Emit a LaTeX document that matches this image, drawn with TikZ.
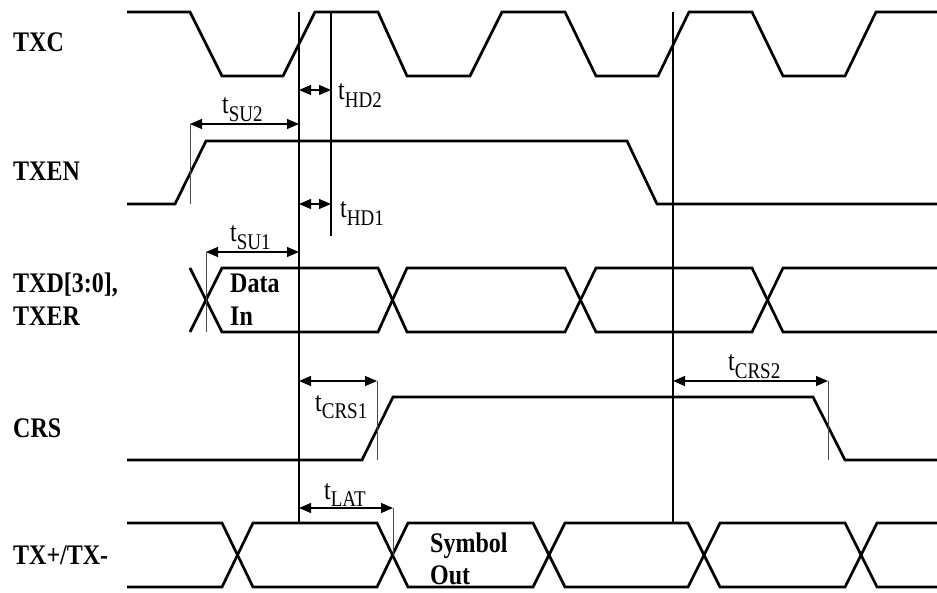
\documentclass[tikz,border=0pt]{standalone}
\usepackage{graphicx}
\usepackage{fontspec}
\setmainfont{Liberation Serif}
\usetikzlibrary{arrows.meta}
\newcommand{\vst}[1]{\scalebox{1}[1.18]{#1}}
\newcommand{\tsub}[1]{\vst{t\raisebox{-6pt}{\fontsize{19}{19}\selectfont #1}}}
\begin{document}
\begin{tikzpicture}[x=1pt,y=-1pt,
  sigln/.style={line width=2.7pt, line join=miter},
  refln/.style={line width=1.2pt},
  tickln/.style={line width=0.9pt, black!70},
  dimarr/.style={line width=1.1pt, {Triangle[length=12pt,width=10pt]}-{Triangle[length=12pt,width=10pt]}},
  sglab/.style={font=\fontsize{24}{28}\selectfont\bfseries, anchor=base west, inner sep=0pt},
  tlab/.style={font=\fontsize{24}{28}\selectfont, anchor=base west, inner sep=0pt}]
\useasboundingbox (0,0) rectangle (937,593);

% signal labels
\node[sglab] (lTXC) at (13,52) {\vst{TXC}};
\node[sglab] (lTXEN) at (13,181) {\vst{TXEN}};
\node[sglab] (lTXD) at (13,293) {\vst{TXD[3:0],}};
\node[sglab] (lTXER) at (13,326) {\vst{TXER}};
\node[sglab] (lCRS) at (13,437) {\vst{CRS}};
\node[sglab] (lTX) at (13,564) {\vst{TX+/TX-}};

% TXC
\draw[sigln] (127,12) -- (190,12) -- (222,76) -- (283,76) -- (315,12) -- (378,12) -- (407,76) -- (470,76) -- (502,12) -- (565,12) -- (596,76) -- (658,76) -- (689,12) -- (752,12) -- (783,76) -- (845,76) -- (876,12) -- (937,12);
% TXEN
\draw[sigln] (127,204) -- (175,204) -- (206,141) -- (627,141) -- (657,204) -- (937,204);
% TXD bus
\draw[sigln] (190,268) -- (222,332) -- (378,332) -- (407,268) -- (565,268) -- (596,332) -- (752,332) -- (783,268) -- (937,268);
\draw[sigln] (190,332) -- (222,268) -- (378,268) -- (407,332) -- (565,332) -- (596,268) -- (752,268) -- (783,332) -- (937,332);
% CRS
\draw[sigln] (127,460) -- (362,460) -- (393,397) -- (813,397) -- (845,460) -- (937,460);
% TX+/TX-
\draw[sigln] (127,523) -- (222,523) -- (253,587) -- (377,587) -- (408,523) -- (533,523) -- (565,587) -- (688,587) -- (720,523) -- (845,523) -- (877,587) -- (937,587);
\draw[sigln] (127,587) -- (222,587) -- (253,523) -- (377,523) -- (408,587) -- (533,587) -- (565,523) -- (688,523) -- (720,587) -- (845,587) -- (877,523) -- (937,523);

% bus contents
\node[sglab] (dData) at (230,293) {\vst{Data}};
\node[sglab] (dIn) at (230,326) {\vst{In}};
\node[sglab] (sSym) at (430,552) {\vst{Symbol}};
\node[sglab] (sOut) at (430,584) {\vst{Out}};

% reference lines
\coordinate (r1t) at (299,12);  \coordinate (r1b) at (299,523);
\coordinate (r2t) at (331,12);  \coordinate (r2b) at (331,236);
\coordinate (r3t) at (673,12);  \coordinate (r3b) at (673,523);
\draw[refln] (r1t) -- (r1b);
\draw[refln] (r2t) -- (r2b);
\draw[refln] (r3t) -- (r3b);

% ticks
\coordinate (k1t) at (190,124); \coordinate (k1b) at (190,204);
\coordinate (k2t) at (206,252); \coordinate (k2b) at (206,332);
\coordinate (k3t) at (377,381); \coordinate (k3b) at (377,460);
\coordinate (k4t) at (828,381); \coordinate (k4b) at (828,460);
\coordinate (k5t) at (393,508); \coordinate (k5b) at (393,555);
\draw[tickln] (k1t) -- (k1b);
\draw[tickln] (k2t) -- (k2b);
\draw[tickln] (k3t) -- (k3b);
\draw[tickln] (k4t) -- (k4b);
\draw[tickln] (k5t) -- (k5b);

% dimension arrows
\coordinate (aHD2a) at (299,90);  \coordinate (aHD2b) at (331,90);
\coordinate (aHD1a) at (299,204); \coordinate (aHD1b) at (331,204);
\coordinate (aSU1b) at (299,252);
\coordinate (aSU2b) at (299,124);
\coordinate (aCRS1a) at (299,381);
\coordinate (aCRS2a) at (673,381);
\coordinate (aLATa) at (299,508);
\draw[dimarr] (k1t) -- (aSU2b);
\draw[dimarr] (aHD2a) -- (aHD2b);
\draw[dimarr] (aHD1a) -- (aHD1b);
\draw[dimarr] (k2t) -- (aSU1b);
\draw[dimarr] (aCRS1a) -- (k3t);
\draw[dimarr] (aCRS2a) -- (k4t);
\draw[dimarr] (aLATa) -- (k5t);

% timing labels
\node[tlab] (tSU2) at (222,114) {\tsub{SU2}};
\node[tlab] (tHD2) at (338,100) {\tsub{HD2}};
\node[tlab] (tHD1) at (340,218) {\tsub{HD1}};
\node[tlab] (tSU1) at (230,242) {\tsub{SU1}};
\node[tlab] (tCRS1) at (315,411) {\tsub{CRS1}};
\node[tlab] (tCRS2) at (728,371) {\tsub{CRS2}};
\node[tlab] (tLAT) at (324,499) {\tsub{LAT}};
\end{tikzpicture}
\end{document}
